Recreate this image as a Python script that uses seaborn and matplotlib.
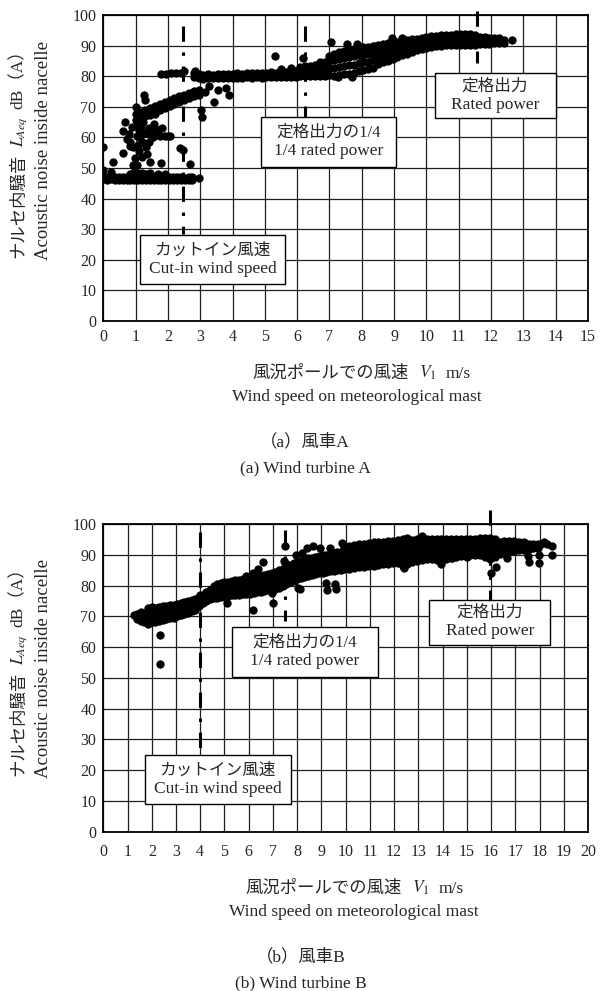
import matplotlib
matplotlib.use("Agg")
import matplotlib.pyplot as plt
from matplotlib.patches import Rectangle
import pandas as pd
import seaborn as sns

# ---------------- data : wind turbine A ----------------
a_idle_x = [0.00, 0.12, 0.24, 0.36, 0.48, 0.60, 0.72, 0.84, 0.96, 1.08, 1.20, 1.32,
            1.44, 1.56, 1.68, 1.80, 1.92, 2.04, 2.16, 2.28, 2.40, 2.52, 2.64, 2.76]
a_idle_y = [[46.4, 47.2], [46.2, 47.0], [46.3, 46.9, 48.6], [46.1, 47.0], [46.2, 47.1],
            [46.0, 46.9], [46.1, 47.2], [46.0, 47.0, 48.2], [46.1, 47.3, 48.8],
            [46.0, 47.0, 48.4], [46.2, 47.2, 48.5], [46.0, 47.1, 48.1], [46.1, 47.0, 48.3],
            [46.0, 47.2], [46.1, 47.0, 48.0], [46.0, 46.9], [46.2, 47.1, 48.0], [46.0, 47.0],
            [46.1, 46.9], [46.0, 47.1], [46.2, 47.0], [46.1, 46.8], [46.0, 47.0], [46.2, 46.9]]

a_rise_x = [1.00, 1.15, 1.30, 1.45, 1.60, 1.75, 1.90, 2.05, 2.20, 2.35, 2.50, 2.65, 2.80, 2.95]
a_rise_y = [[65.8, 67.5], [66.5, 68.3], [67.0, 67.4, 69.0], [67.3, 67.6, 69.6], [67.5, 68.2, 70.3],
            [68.8, 70.9], [69.5, 71.6], [70.1, 72.2], [70.8, 72.8], [71.5, 73.4],
            [72.2, 74.0], [72.8, 74.6], [73.4, 75.2], [74.0, 75.6]]

a_band_x = [2.80, 2.95, 3.10, 3.25, 3.40, 3.55, 3.70, 3.85, 4.00, 4.15, 4.30, 4.45, 4.60,
            4.75, 4.90, 5.05, 5.20, 5.35, 5.50, 5.65, 5.80, 5.95, 6.10, 6.25, 6.40, 6.55,
            6.70, 6.85, 7.00, 7.15, 7.30, 7.45, 7.60, 7.75, 7.90, 8.05, 8.20, 8.35, 8.50,
            8.65, 8.80, 8.95, 9.10, 9.25, 9.40, 9.55, 9.70, 9.85, 10.00, 10.15, 10.30,
            10.45, 10.60, 10.75, 10.90, 11.05, 11.20, 11.35, 11.50, 11.65, 11.80, 11.95,
            12.10, 12.25, 12.40, 12.64]
a_band_y = [[79.6, 80.9], [79.3, 80.6], [79.2, 80.5], [79.4, 80.7], [79.3, 80.5], [79.4, 80.8],
            [79.3, 80.6], [79.5, 80.8], [79.4, 80.7], [79.5, 80.9], [79.4, 80.8], [79.6, 81.0],
            [79.5, 81.1], [79.6, 80.9], [79.5, 81.2], [79.7, 81.1], [79.6, 81.3], [79.8, 81.2],
            [79.7, 81.4, 82.4], [79.8, 81.3], [79.9, 81.5, 82.6], [79.8, 81.6],
            [80.0, 81.7, 83.0], [80.0, 81.8, 83.3], [80.1, 81.9, 83.4], [80.0, 82.0, 83.8],
            [80.2, 82.2, 84.2], [80.1, 82.4, 84.6], [80.3, 82.6, 85.0, 86.6],
            [80.2, 82.8, 85.3, 87.2], [80.5, 83.0, 85.6, 87.8], [80.6, 83.2, 85.8, 88.2],
            [80.8, 83.5, 86.2, 88.6], [81.2, 83.8, 86.5, 88.9], [81.6, 84.2, 86.8, 89.2],
            [82.0, 84.5, 87.0, 89.4], [82.4, 84.8, 87.3, 89.6], [82.8, 85.2, 87.6, 89.8],
            [84.0, 86.0, 88.2, 90.1], [84.5, 86.4, 88.5, 90.4], [85.1, 86.9, 88.8, 90.8],
            [85.7, 87.4, 89.2, 91.0], [86.3, 87.9, 89.6, 91.3], [86.9, 88.4, 90.0, 91.6],
            [87.4, 88.8, 90.3, 91.8], [87.9, 89.3, 90.7, 92.0], [88.4, 89.7, 91.0, 92.3],
            [88.8, 90.1, 91.4, 92.6], [89.2, 90.5, 91.7, 92.8], [89.5, 90.8, 92.0, 93.0],
            [89.8, 91.0, 92.2, 93.2], [90.0, 91.2, 92.4, 93.4], [90.2, 91.4, 92.6, 93.5],
            [90.3, 91.5, 92.7, 93.6], [90.3, 91.5, 92.7, 93.7], [90.3, 91.5, 92.8, 93.8],
            [90.3, 91.6, 92.9, 93.9], [90.3, 91.6, 92.9, 93.8], [90.3, 91.7, 92.9, 93.6],
            [90.4, 91.7, 92.8], [90.5, 91.7, 92.7], [90.6, 91.8, 92.6], [90.7, 91.8, 92.5],
            [90.9, 91.9, 92.4], [91.0, 91.9], [91.9]]

a_extra_x = [0.00, 0.00, 0.30, 0.60, 0.62, 0.67, 0.72, 0.80, 0.82, 0.88,
             0.93, 0.93, 0.98, 1.00, 1.04, 1.05, 1.08, 1.10, 1.12, 1.15,
             1.18, 1.20, 1.22, 1.25, 1.30, 1.30, 1.33, 1.36, 1.40, 1.44,
             1.48, 1.52, 1.56, 1.62, 1.68, 1.75, 1.78, 1.82, 1.90, 2.00,
             2.06, 2.37, 2.47, 2.68, 2.95, 1.19, 1.42, 0.83, 1.54, 1.05,
             1.80, 1.95, 2.10, 2.25, 2.40, 2.50, 2.85, 3.02, 3.06, 3.15,
             3.26, 3.44, 3.79, 3.89, 3.55, 5.30, 6.19, 7.05, 7.53, 7.84,
             7.69, 7.27, 8.93, 9.24, 8.10, 8.40, 6.70, 7.95]
a_extra_y = [57.0, 49.3, 51.9, 55.0, 62.2, 64.9, 59.6, 61.0, 58.5, 63.5,
             56.9, 51.1, 53.2, 69.8, 60.5, 64.5, 57.5, 62.5, 55.5, 60.0,
             63.5, 58.5, 65.0, 73.8, 72.2, 61.5, 56.8, 54.5, 63.0, 52.1,
             60.5, 62.0, 64.5, 60.8, 62.5, 60.5, 51.5, 63.0, 60.5, 60.6,
             60.4, 56.4, 55.9, 51.3, 46.6, 53.7, 58.6, 57.2, 60.2, 51.0,
             80.8, 80.8, 80.9, 81.0, 81.2, 81.6, 81.8, 69.0, 66.6, 75.0,
             76.8, 71.7, 76.0, 73.9, 75.5, 86.5, 85.9, 91.3, 90.5, 90.5,
             79.9, 79.9, 92.4, 92.4, 88.5, 90.0, 84.5, 89.5]

a_ref_x = [2.48, 6.25, 11.56]          # cut-in, 1/4 rated, rated power
a_ref_lo = [28.3, 66.8, 84.2]
a_ref_hi = [96.3, 96.5, 101.3]

# ---------------- data : wind turbine B ----------------
b_band_x = [1.25, 1.40, 1.55, 1.70, 1.85, 2.00, 2.15, 2.30, 2.45, 2.60, 2.75, 2.90, 3.05,
            3.20, 3.35, 3.50, 3.65, 3.80, 3.95, 4.10, 4.25, 4.40, 4.55, 4.70, 4.85, 5.00,
            5.15, 5.30, 5.45, 5.60, 5.75, 5.90, 6.05, 6.20, 6.35, 6.50, 6.65, 6.80, 6.95,
            7.10, 7.25, 7.40, 7.55, 7.70, 7.85, 8.00, 8.15, 8.30, 8.45, 8.60, 8.75, 8.90,
            9.05, 9.20, 9.35, 9.50, 9.65, 9.80, 9.95, 10.15, 10.35, 10.55, 10.75, 10.95,
            11.15, 11.35, 11.55, 11.75, 11.95, 12.15, 12.35, 12.55, 12.75, 12.95, 13.15,
            13.35, 13.55, 13.75, 13.95, 14.15, 14.35, 14.55, 14.75, 14.95, 15.15, 15.35,
            15.55, 15.75, 15.95, 16.15, 16.35, 16.55, 16.75, 16.95, 17.15, 17.35, 17.55,
            17.75, 17.95]
b_band_y = [[70.4], [69.2, 70.9], [68.5, 70.0, 71.3], [68.0, 69.6, 71.2],
            [67.6, 69.4, 71.2, 72.6], [68.0, 69.8, 71.5, 73.0], [68.3, 70.0, 71.8, 72.8],
            [68.5, 70.2, 71.9, 73.1], [68.7, 70.4, 72.0, 73.2], [69.0, 70.6, 72.2, 73.4],
            [69.3, 70.9, 72.4, 73.6], [69.6, 71.2, 72.7, 73.8], [70.0, 71.6, 73.0, 74.0],
            [70.4, 72.0, 73.4, 74.4], [70.8, 72.3, 73.7, 74.8], [71.2, 72.7, 74.0, 75.0],
            [71.6, 73.1, 74.4, 75.3], [72.2, 73.6, 74.8, 75.6], [73.5, 75.0, 76.3],
            [74.3, 75.8, 77.0], [75.0, 76.5, 77.8], [75.5, 77.0, 78.4],
            [75.8, 77.3, 78.8, 80.0], [76.0, 77.6, 79.2, 80.5], [76.3, 77.9, 79.5, 80.8],
            [76.5, 78.1, 79.7, 81.0], [76.6, 78.2, 79.8, 81.2], [76.8, 78.4, 80.0, 81.4],
            [76.9, 78.5, 80.2, 81.7], [77.0, 78.6, 80.3, 81.9], [77.2, 78.8, 80.5, 82.2],
            [77.3, 78.9, 80.6, 82.4], [77.4, 79.0, 80.7, 82.4], [77.6, 79.2, 80.9, 82.5],
            [77.8, 79.4, 81.1, 82.7], [78.0, 79.6, 81.3, 83.0], [78.2, 79.8, 81.5, 83.3],
            [78.4, 80.1, 81.8, 83.6], [78.7, 80.4, 82.1, 84.0], [79.0, 80.7, 82.5, 84.4],
            [79.3, 81.0, 82.9, 84.9], [79.8, 81.5, 83.4, 85.4], [80.4, 82.1, 84.0, 86.0],
            [81.0, 82.7, 84.6, 86.6], [81.5, 83.3, 85.2, 87.2], [82.0, 83.8, 85.7, 87.7],
            [82.4, 84.2, 86.1, 88.1], [82.8, 84.6, 86.5, 88.5], [83.2, 85.0, 86.9, 88.8],
            [83.5, 85.4, 87.3, 89.1], [83.8, 85.7, 87.6, 89.4], [84.0, 85.9, 87.8, 89.6],
            [84.2, 86.1, 88.0, 89.8], [84.4, 86.3, 88.2, 90.0], [84.6, 86.5, 88.4, 90.3],
            [84.8, 86.7, 88.6, 90.5], [85.0, 86.9, 88.8, 90.8], [85.2, 87.1, 89.0, 91.0],
            [85.3, 87.2, 89.2, 91.2, 92.6], [85.5, 87.4, 89.4, 91.4, 93.0],
            [85.7, 87.6, 89.6, 91.6, 93.2], [85.9, 87.8, 89.8, 91.8, 93.4],
            [86.1, 88.0, 90.0, 92.0, 93.6], [86.3, 88.2, 90.2, 92.2, 93.8],
            [86.5, 88.4, 90.4, 92.4, 94.0], [86.7, 88.6, 90.6, 92.5, 94.1],
            [86.9, 88.8, 90.8, 92.7, 94.3], [87.1, 89.0, 91.0, 92.9, 94.5],
            [87.2, 89.1, 91.1, 93.0, 94.6], [87.3, 89.2, 91.2, 93.1, 94.7],
            [86.2, 88.2, 90.2, 92.2, 94.0, 95.0], [87.0, 89.0, 91.0, 92.9, 94.4, 95.3],
            [87.6, 89.5, 91.4, 93.2, 94.8], [88.0, 89.9, 91.7, 93.5, 95.0],
            [88.3, 90.1, 91.9, 93.7, 95.3, 96.0], [88.5, 90.3, 92.0, 93.8, 95.2],
            [88.6, 90.4, 92.1, 93.8, 95.1], [88.2, 90.2, 92.0, 93.8, 95.0],
            [87.8, 89.9, 91.9, 93.7, 95.0], [88.6, 90.4, 92.1, 93.8, 95.0],
            [89.0, 90.7, 92.3, 93.9, 95.0], [89.3, 90.9, 92.5, 94.0, 95.1],
            [89.5, 91.1, 92.6, 94.1, 95.1], [89.6, 91.2, 92.7, 94.1, 95.0],
            [89.8, 91.3, 92.8, 94.2, 95.1], [90.0, 91.4, 92.9, 94.3, 95.2],
            [89.8, 91.3, 92.8, 94.3, 95.4], [89.4, 91.0, 92.6, 94.2, 95.5],
            [88.6, 90.5, 92.3, 94.0, 95.6], [89.2, 90.9, 92.5, 94.0, 95.0],
            [90.2, 91.7, 93.0, 94.3], [90.6, 92.0, 93.2, 94.4], [91.0, 92.3, 93.4, 94.4],
            [91.3, 92.5, 93.5, 94.4], [91.5, 92.6, 93.6, 94.3], [91.7, 92.7, 93.6, 94.2],
            [91.9, 92.8, 93.6], [92.1, 92.9, 93.6], [92.3, 93.0, 93.5]]

b_extra_x = [2.35, 2.35, 3.99, 4.40, 5.10, 6.19, 7.00, 6.98, 6.18, 6.40,
             6.60, 7.45, 7.50, 7.50, 8.05, 8.10, 9.20, 9.24, 9.55, 9.60,
             8.39, 8.66, 8.94, 9.35, 9.84, 9.40, 12.40, 13.93, 14.37, 14.99,
             16.00, 16.20, 16.67, 17.53, 17.57, 17.97, 17.97, 18.30, 18.20, 18.50,
             18.50, 18.05, 6.80, 5.90, 7.95, 8.20]
b_extra_y = [64.0, 54.5, 76.9, 78.0, 74.2, 71.9, 74.2, 77.5, 84.2, 85.5,
             87.5, 88.0, 87.3, 92.7, 79.2, 78.8, 80.9, 78.5, 80.5, 79.0,
             92.1, 92.8, 92.2, 92.2, 93.8, 89.2, 85.7, 87.0, 88.8, 89.2,
             84.0, 86.1, 88.8, 89.6, 87.5, 89.9, 87.2, 93.5, 94.0, 89.9,
             92.8, 93.5, 83.5, 83.0, 89.8, 90.5]

b_ref_x = [3.99, 7.50, 15.95]
b_ref_lo = [24.9, 68.6, 75.4]
b_ref_hi = [97.3, 98.0, 104.5]

box_jp = ["カットイン風速", "定格出力の1/4", "定格出力"]
box_en = ["Cut-in wind speed", "1/4 rated power", "Rated power"]

ylab_jp = ["ナルセ内騒音", r"$L_{Aeq}$", "dB（A）"]
ylab_en = "Acoustic noise inside nacelle"
xlab_jp = ["風況ポールでの風速", r"$V_{\mathit{1}}$", "m/s"]
xlab_en = "Wind speed on meteorological mast"
cap_jp = ["（a）風車A", "（b）風車B"]
cap_en = ["(a) Wind turbine A", "(b) Wind turbine B"]

# ---------------- layout ----------------
sns.set_theme(style="white")
FAM = ["Liberation Serif", "Noto Sans CJK JP"]
plt.rcParams["font.family"] = FAM
plt.rcParams["mathtext.fontset"] = "stix"

W, H = 600, 991
fig = plt.figure(figsize=(W / 100, H / 100), dpi=100)


def fx(x):
    return x / W


def fy(y):
    return 1 - y / H


def frame(cols, vals, ex, ey):
    xs = [c for c, v in zip(cols, vals) for _ in v] + list(ex)
    ys = [y for v in vals for y in v] + list(ey)
    return pd.DataFrame({"speed": xs, "noise": ys})


def panel(top, bottom, df, xmax, rx, rlo, rhi, boxes, xpad):
    left, right = 103.3, 588.0
    ax = fig.add_axes([fx(left), fy(bottom), (right - left) / W, (bottom - top) / H])
    for x, lo, hi in zip(rx, rlo, rhi):
        ax.plot([x, x], [hi, lo], color="black", lw=2.2, ls=(0, (5, 3.5, 1.1, 3.5)),
                dash_capstyle="butt", clip_on=False, zorder=2)
    sns.scatterplot(data=df, x="speed", y="noise", ax=ax, color="black", s=36,
                    linewidth=0, zorder=3, legend=False)
    ax.set_xlim(0, xmax)
    ax.set_ylim(0, 100)
    ax.set_xticks(range(0, xmax + 1))
    ax.set_yticks(range(0, 101, 10))
    ax.grid(True, color="#1e1e1e", lw=0.9)
    ax.set_axisbelow(True)
    for s in ax.spines.values():
        s.set_visible(True)
        s.set_color("black")
        s.set_linewidth(1.3)
    ax.tick_params(axis="x", length=0, labelsize=11.5, pad=xpad)
    ax.tick_params(axis="y", length=0, labelsize=11.5, pad=5)
    ax.set_xlabel("")
    ax.set_ylabel("")
    for (x0, x1, y0, y1), jp, en in zip(boxes, box_jp, box_en):
        ax.add_patch(Rectangle((x0, y0), x1 - x0, y1 - y0, fc="white", ec="black",
                               lw=1.0, zorder=5, clip_on=False))
        cx, cy = (x0 + x1) / 2, (y0 + y1) / 2
        ax.annotate(jp, (cx, cy), xytext=(0, 6.6), textcoords="offset points",
                    ha="center", va="center", fontsize=12, zorder=6)
        ax.annotate(en, (cx, cy), xytext=(0, -6.6), textcoords="offset points",
                    ha="center", va="center", fontsize=12.5, zorder=6)
    return ax


def chain_h(ax, pieces, x0, yb, fs, gaps):
    first = fig.text(fx(x0), fy(yb), pieces[0], ha="left", va="baseline", fontsize=fs)
    arts, prev = [first], first
    for s, g in zip(pieces[1:], gaps):
        t = ax.annotate(s, xy=(1.0, fy(yb)), xycoords=(prev, "figure fraction"),
                        xytext=(g, 0), textcoords="offset points", ha="left",
                        va="baseline", fontsize=fs)
        arts.append(t)
        prev = t
    return arts


def chain_v(ax, pieces, xb, y0, fs, gaps):
    first = fig.text(fx(xb), fy(y0), pieces[0], ha="left", va="baseline", fontsize=fs,
                     rotation=90, rotation_mode="anchor")
    arts, prev = [first], first
    for s, g in zip(pieces[1:], gaps):
        t = ax.annotate(s, xy=(fx(xb), 1.0), xycoords=("figure fraction", prev),
                        xytext=(0, g), textcoords="offset points", ha="left",
                        va="baseline", fontsize=fs, rotation=90, rotation_mode="anchor")
        arts.append(t)
        prev = t
    return arts


df_a = frame(a_idle_x + a_rise_x + a_band_x, a_idle_y + a_rise_y + a_band_y,
             a_extra_x, a_extra_y)
df_b = frame(b_band_x, b_band_y, b_extra_x, b_extra_y)

boxes_a = [(1.13, 5.63, 12.0, 28.1), (4.89, 9.06, 50.4, 66.8), (10.25, 14.0, 66.2, 80.9)]
boxes_b = [(1.71, 7.74, 9.0, 24.9), (5.32, 11.33, 50.4, 66.4), (13.45, 18.44, 60.7, 75.4)]

ax_a = panel(15.0, 321.0, df_a, 15, a_ref_x, a_ref_lo, a_ref_hi, boxes_a, 6)
ax_b = panel(524.0, 831.7, df_b, 20, b_ref_x, b_ref_lo, b_ref_hi, boxes_b, 9)

ycent = [150.0, 668.0]
recenter = []
specs = [(ax_a, 15.0, 321.0, 0), (ax_b, 524.0, 831.7, 1)]
for ax, top, bot, i in specs:
    yl = chain_v(ax, ylab_jp, 23.0, 0.5 * (top + bot) + 100, 12.5, [5, 5])
    recenter.append((yl, "y", ycent[i]))
    fig.text(fx(48.5), fy(ycent[i]), ylab_en, rotation=90,
             rotation_mode="anchor", ha="center", va="baseline", fontsize=13.5)
    xb = [378.0, 893.0][i]
    xl = chain_h(ax, xlab_jp, 245.0, xb, 12.5, [7, 7])
    recenter.append((xl, "x", [362.0, 355.0][i]))
    fig.text(fx([357.0, 354.0][i]), fy([401.0, 916.0][i]), xlab_en, ha="center",
             va="baseline", fontsize=12.5)
    fig.text(fx([305.0, 301.0][i]), fy([446.0, 961.0][i]), cap_jp[i], ha="center",
             va="baseline", fontsize=12.5)
    fig.text(fx([305.0, 301.0][i]), fy([472.0, 987.0][i]), cap_en[i], ha="center",
             va="baseline", fontsize=12.5)

fig.canvas.draw()
r = fig.canvas.get_renderer()
for arts, axis, target in recenter:
    bbs = [a.get_window_extent(r) for a in arts]
    x, y = arts[0].get_position()
    if axis == "x":
        cur = 0.5 * (min(b.x0 for b in bbs) + max(b.x1 for b in bbs))
        arts[0].set_position((x + (target - cur) / W, y))
    else:
        cur = H - 0.5 * (min(b.y0 for b in bbs) + max(b.y1 for b in bbs))
        arts[0].set_position((x, y - (target - cur) / H))

fig.savefig("out.png", dpi=100)
